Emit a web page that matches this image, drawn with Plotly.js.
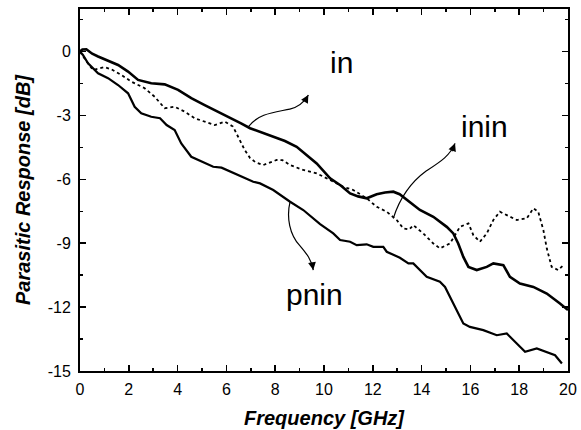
<!DOCTYPE html>
<html>
<head>
<meta charset="utf-8">
<script src="https://cdn.plot.ly/plotly-3.0.1.min.js"></script>
<style>html,body{margin:0;padding:0;background:#fff;}#chart{width:581px;height:430px;}</style>
</head>
<body>
<div id="chart"></div>
<script>
// Frequency [GHz] and parasitic response [dB] for each structure
const inFreq = [0, 0.1, 0.26, 0.5, 0.74, 1.15, 1.56, 1.97, 2.38, 2.92, 3.47, 4.02, 4.56, 5.11, 5.66, 6.2, 6.6, 6.97, 7.45, 7.92, 8.4, 8.88, 9.3, 9.7, 10.25, 10.7, 11.07, 11.4, 11.75, 12.16, 12.5, 12.84, 13.1, 13.39, 13.93, 14.48, 15.03, 15.3, 15.5, 15.71, 15.92, 16.26, 16.67, 16.94, 17.35, 17.62, 18.03, 18.58, 19.13, 19.67, 20.0];
const inResp = [0, 0.1, 0.11, -0.1, -0.23, -0.42, -0.63, -0.94, -1.33, -1.49, -1.54, -1.80, -2.19, -2.51, -2.82, -3.13, -3.37, -3.6, -3.8, -4.0, -4.2, -4.47, -4.85, -5.25, -5.95, -6.3, -6.66, -6.8, -6.89, -6.7, -6.62, -6.58, -6.7, -6.97, -7.44, -7.76, -8.23, -8.54, -9.01, -9.64, -10.11, -10.26, -10.11, -9.95, -10.03, -10.58, -10.89, -11.05, -11.36, -11.83, -12.14];

const ininFreq = [0, 0.2, 0.53, 0.75, 1.01, 1.28, 1.7, 2.1, 2.65, 3.06, 3.47, 3.88, 4.29, 4.7, 5.11, 5.52, 5.93, 6.27, 6.48, 6.75, 6.97, 7.2, 7.51, 7.8, 8.06, 8.3, 8.61, 9.15, 9.7, 10.25, 10.79, 11.2, 11.75, 12.16, 12.57, 12.98, 13.25, 13.5, 13.66, 14.07, 14.48, 14.75, 15.16, 15.37, 15.57, 15.92, 16.12, 16.39, 16.67, 16.94, 17.21, 17.49, 17.9, 18.31, 18.58, 18.78, 18.99, 19.13, 19.33, 19.6, 19.81];
const ininResp = [0, -0.35, -0.86, -0.8, -0.73, -0.83, -1.1, -1.41, -1.72, -2.12, -2.66, -2.59, -2.82, -3.13, -3.29, -3.45, -3.29, -3.52, -4.0, -4.62, -5.0, -5.2, -5.33, -5.2, -5.09, -5.1, -5.33, -5.56, -5.72, -6.03, -6.35, -6.5, -6.89, -7.29, -7.52, -7.91, -8.3, -8.35, -8.15, -8.54, -9.01, -9.24, -9.01, -8.62, -8.23, -8.07, -8.62, -8.93, -8.54, -7.91, -7.52, -7.68, -7.91, -7.83, -7.36, -7.52, -8.38, -9.24, -10.11, -10.26, -10.03];

const pninFreq = [0, 0.12, 0.33, 0.74, 1.15, 1.56, 1.97, 2.24, 2.51, 2.92, 3.28, 3.55, 3.88, 4.15, 4.56, 5.11, 5.46, 5.8, 6.34, 6.75, 7.1, 7.38, 7.92, 8.61, 9.15, 9.84, 10.38, 10.66, 11.07, 11.34, 11.75, 12.02, 12.43, 12.57, 13.11, 13.46, 13.66, 14.21, 14.75, 14.96, 15.16, 15.44, 15.71, 15.98, 16.53, 17.08, 17.49, 17.9, 18.24, 18.72, 19.13, 19.47, 19.75];
const pninResp = [0, -0.16, -0.55, -1.02, -1.25, -1.57, -1.96, -2.59, -2.9, -3.06, -3.13, -3.45, -3.68, -4.31, -4.94, -5.25, -5.41, -5.45, -5.72, -5.95, -6.11, -6.19, -6.5, -7.05, -7.44, -8.1, -8.54, -8.85, -8.93, -9.09, -9.05, -9.17, -9.17, -9.4, -9.68, -9.95, -9.95, -10.58, -10.81, -11.05, -11.52, -12.14, -12.77, -12.93, -13.08, -13.32, -13.24, -13.71, -14.1, -13.94, -14.1, -14.26, -14.65];

const seriesNames = ["in", "inin", "pnin"];
const xTickVals = [0, 2, 4, 6, 8, 10, 12, 14, 16, 18, 20];
const yTickVals = [-15, -12, -9, -6, -3, 0];

const FONT = '"Liberation Sans", Arial, Helvetica, sans-serif';

const traces = [
  {x: inFreq, y: inResp, name: seriesNames[0], mode: 'lines', line: {color: '#000', width: 2.6}},
  {x: ininFreq, y: ininResp, name: seriesNames[1], mode: 'lines', line: {color: '#000', width: 1.8, dash: 'dot'}},
  {x: pninFreq, y: pninResp, name: seriesNames[2], mode: 'lines', line: {color: '#000', width: 2.2}}
];

const axisCommon = {
  showgrid: false, zeroline: false, showline: true, linecolor: '#000', linewidth: 2,
  mirror: 'ticks', ticks: 'inside', ticklen: 6, tickwidth: 1.5, tickcolor: '#000',
  tickfont: {family: FONT, size: 16, color: '#000'},
  automargin: false, fixedrange: true
};

const layout = {
  width: 581, height: 430,
  margin: {l: 80, r: 13, t: 9, b: 59},
  paper_bgcolor: '#fff', plot_bgcolor: '#fff',
  showlegend: false,
  font: {family: FONT, color: '#000'},
  xaxis: Object.assign({}, axisCommon, {
    range: [0, 20], tickvals: xTickVals, ticktext: xTickVals.map(String),
    minor: {dtick: 1, tick0: 0, ticks: 'inside', ticklen: 3, tickwidth: 1.5, tickcolor: '#000'},
    ticklabelstandoff: 3,
    title: {text: 'Frequency [GHz]', standoff: 14, font: {family: FONT, size: 20, weight: 'bold', style: 'italic', color: '#000'}}
  }),
  yaxis: Object.assign({}, axisCommon, {
    range: [-15, 2], tickvals: yTickVals, ticktext: yTickVals.map(String),
    minor: {dtick: 1.5, tick0: 0, ticks: 'inside', ticklen: 3, tickwidth: 1.5, tickcolor: '#000'},
    ticklabelstandoff: 4,
    title: {text: 'Parasitic Response [dB]', standoff: 12, font: {family: FONT, size: 20, weight: 'bold', style: 'italic', color: '#000'}}
  }),
  shapes: [
    {type: 'path', xref: 'x', yref: 'y', path: 'M 6.9,-3.53 C 7.3,-2.9 8.0,-2.85 8.6,-2.7 C 9.0,-2.6 9.2,-2.35 9.36,-2.04', line: {color: '#000', width: 1.2}},
    {type: 'path', xref: 'x', yref: 'y', path: 'M 12.84,-7.83 C 13.1,-6.9 13.6,-6.1 14.2,-5.6 C 14.8,-5.15 15.15,-4.9 15.37,-4.31', line: {color: '#000', width: 1.2}},
    {type: 'path', xref: 'x', yref: 'y', path: 'M 8.61,-7.05 C 8.45,-7.8 8.6,-8.6 9.0,-9.1 C 9.3,-9.5 9.5,-9.8 9.56,-10.26', line: {color: '#000', width: 1.2}}
  ],
  annotations: [
    {x: 10.72, y: -0.53, xref: 'x', yref: 'y', text: seriesNames[0], showarrow: false, font: {family: FONT, size: 30, color: '#000'}},
    {x: 16.56, y: -3.53, xref: 'x', yref: 'y', text: seriesNames[1], showarrow: false, font: {family: FONT, size: 30, color: '#000'}},
    {x: 9.63, y: -11.4, xref: 'x', yref: 'y', text: seriesNames[2], showarrow: false, font: {family: FONT, size: 30, color: '#000'}},
    {x: 9.36, y: -2.04, ax: 9.22, ay: -2.32, xref: 'x', yref: 'y', axref: 'x', ayref: 'y', text: '', showarrow: true, arrowhead: 2, arrowsize: 1.3, arrowwidth: 1.2, arrowcolor: '#000', standoff: 0},
    {x: 15.37, y: -4.31, ax: 15.22, ay: -4.75, xref: 'x', yref: 'y', axref: 'x', ayref: 'y', text: '', showarrow: true, arrowhead: 2, arrowsize: 1.3, arrowwidth: 1.2, arrowcolor: '#000', standoff: 0},
    {x: 9.56, y: -10.26, ax: 9.5, ay: -9.85, xref: 'x', yref: 'y', axref: 'x', ayref: 'y', text: '', showarrow: true, arrowhead: 2, arrowsize: 1.3, arrowwidth: 1.2, arrowcolor: '#000', standoff: 0}
  ]
};

Plotly.newPlot('chart', traces, layout, {staticPlot: true, displayModeBar: false});
</script>
</body>
</html>
